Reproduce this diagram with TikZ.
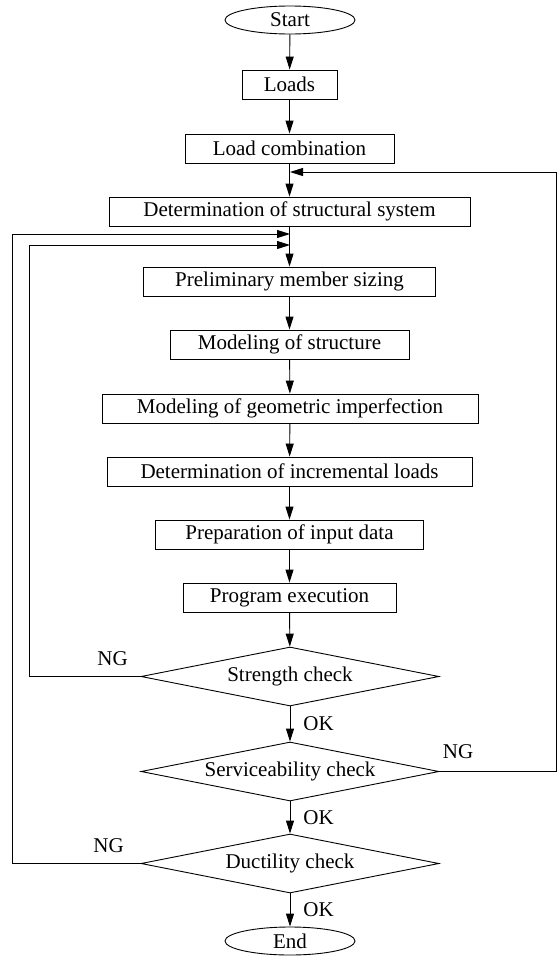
\documentclass[tikz,border=0pt]{standalone}
\usepackage{fontspec}
\setmainfont{Liberation Serif}
\usetikzlibrary{shapes.geometric,arrows.meta}
\begin{document}
\begin{tikzpicture}[x=1pt,y=-1pt,
  every node/.style={font=\fontsize{21}{24}\selectfont},
  box/.style={draw, line width=0.9pt, minimum height=29pt, inner sep=0pt},
  term/.style={draw, ellipse, line width=0.9pt, minimum width=130pt, minimum height=28pt, inner sep=0pt},
  dec/.style={draw, diamond, aspect=5, line width=0.9pt, minimum width=298pt, minimum height=59pt, inner sep=0pt},
  arr/.style={line width=0.9pt, -{Triangle[length=13pt,width=8pt]}},
  ln/.style={line width=0.9pt},
  oklbl/.style={anchor=west, inner sep=0pt, xshift=13pt},
  nglbl/.style={anchor=south, inner sep=0pt, yshift=10pt}]
\useasboundingbox (0,0) rectangle (557,956);
\node[term] (start) at (290,20) {Start};
\node[box, minimum width=95pt] (loads) at (289.5,84.5) {Loads};
\node[box, minimum width=209pt] (lc) at (289.5,148.5) {Load combination};
\node[box, minimum width=361pt] (det) at (289.5,211.5) {Determination of structural system};
\node[box, minimum width=292pt] (prelim) at (289.5,281.5) {Preliminary member sizing};
\node[box, minimum width=239pt] (ms) at (289.5,344.5) {Modeling of structure};
\node[box, minimum width=376pt] (mgi) at (290,408.5) {Modeling of geometric imperfection};
\node[box, minimum width=365pt] (il) at (289.5,471.5) {Determination of incremental loads};
\node[box, minimum width=268pt] (prep) at (289.5,534.5) {Preparation of input data};
\node[box, minimum width=213pt] (pe) at (289.5,597.5) {Program execution};
\node[dec] (str) at (290,676.5) {Strength check};
\node[dec] (ser) at (290,771.5) {Serviceability check};
\node[dec] (duc) at (290,863.5) {Ductility check};
\node[term] (end) at (290,941) {End};
\coordinate (j1) at (290,172);
\coordinate (j2) at (290,234);
\coordinate (j3) at (290,245);
\draw[arr] (start) -- (loads);
\draw[arr] (loads) -- (lc);
\draw[arr] (lc) -- (det);
\draw[arr] (det) -- (prelim);
\draw[arr] (prelim) -- (ms);
\draw[arr] (ms) -- (mgi);
\draw[arr] (mgi) -- (il);
\draw[arr] (il) -- (prep);
\draw[arr] (prep) -- (pe);
\draw[arr] (pe) -- (str);
\draw[arr] (str) -- node[oklbl] {OK} (ser);
\draw[arr] (ser) -- node[oklbl] {OK} (duc);
\draw[arr] (duc) -- node[oklbl] {OK} (end);
\draw[arr] (ser.east) -- node[nglbl, yshift=2pt, pos=0.16] {NG} (556,771.5) -- (556,172) -- (j1);
\draw[arr] (str.west) -- node[nglbl, pos=0.25] {NG} (29,676.5) -- (29,245) -- (j3);
\draw[arr] (duc.west) -- node[nglbl, pos=0.25] {NG} (12.5,863.5) -- (12.5,234) -- (j2);
\end{tikzpicture}
\end{document}
